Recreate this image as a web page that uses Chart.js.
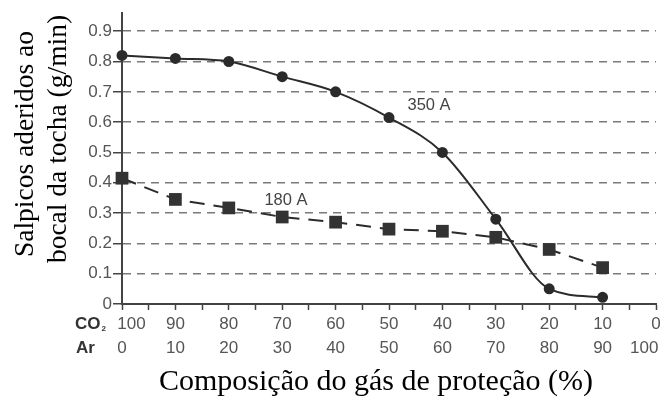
<!DOCTYPE html>
<html><head><meta charset="utf-8">
<script src="https://cdn.jsdelivr.net/npm/chart.js@4.4.0/dist/chart.umd.min.js"></script>
<style>html,body{margin:0;padding:0;background:#fff}#wrap{width:665px;height:402px;position:relative}</style>
</head><body><div id="wrap"><canvas id="c" width="665" height="402"></canvas></div>
<script>
const co2 = [100, 90, 80, 70, 60, 50, 40, 30, 20, 10];
const ar = [0, 10, 20, 30, 40, 50, 60, 70, 80, 90];
const series350 = [0.82, 0.81, 0.80, 0.75, 0.70, 0.615, 0.50, 0.28, 0.05, 0.022];
const series180 = [0.415, 0.345, 0.317, 0.287, 0.27, 0.247, 0.24, 0.22, 0.18, 0.12];
const yTicks = [0, 0.1, 0.2, 0.3, 0.4, 0.5, 0.6, 0.7, 0.8, 0.9];
const xTicks = [100, 95, 90, 85, 80, 75, 70, 65, 60, 55, 50, 45, 40, 35, 30, 25, 20, 15, 10, 5, 0];
const labels = [{text: '350 A', co2: 42.5, y: 0.656}, {text: '180 A', co2: 69.3, y: 0.343}];
const yTitle = ['Salpicos aderidos ao', 'bocal da tocha (g/min)'];
const xTitle = 'Composição do gás de proteção (%)';

const ink = '#2b2b2b';
const tickGray = '#555';

const extras = {
  id: 'extras',
  afterDraw(chart) {
    const ctx = chart.ctx, xs = chart.scales.x, ys = chart.scales.y;
    ctx.save();
    // in-plot labels
    ctx.font = '16.5px "Liberation Sans", Arial, sans-serif';
    ctx.fillStyle = '#444';
    ctx.textAlign = 'center'; ctx.textBaseline = 'middle';
    labels.forEach(l => ctx.fillText(l.text, xs.getPixelForValue(l.co2), ys.getPixelForValue(l.y)));
    // row labels
    ctx.font = 'bold 17px "Liberation Sans", Arial, sans-serif';
    ctx.fillStyle = '#333';
    ctx.textAlign = 'left';
    ctx.fillText('CO', 75, 324);
    const w = ctx.measureText('CO').width;
    ctx.font = 'bold 8px "Liberation Sans", Arial, sans-serif';
    ctx.fillText('2', 75 + w + 1, 329);
    ctx.font = 'bold 17px "Liberation Sans", Arial, sans-serif';
    ctx.fillText('Ar', 76, 348);
    // axis titles
    ctx.fillStyle = '#000';
    ctx.font = '30px "Liberation Serif", "Times New Roman", serif';
    ctx.textAlign = 'center'; ctx.textBaseline = 'alphabetic';
    ctx.fillText(xTitle, 376, 390);
    ctx.font = '27.5px "Liberation Serif", "Times New Roman", serif';
    ctx.textBaseline = 'middle';
    ctx.save(); ctx.translate(26, 144); ctx.rotate(-Math.PI / 2); ctx.fillText(yTitle[0], 0, 0); ctx.restore();
    ctx.save(); ctx.translate(59, 139); ctx.rotate(-Math.PI / 2); ctx.fillText(yTitle[1], 0, 0); ctx.restore();
    ctx.restore();
  }
};

new Chart(document.getElementById('c'), {
  type: 'line',
  data: {
    datasets: [
      {
        label: '350 A',
        data: co2.map((c, i) => ({x: c, y: series350[i]})),
        borderColor: ink, backgroundColor: ink, borderWidth: 2,
        pointStyle: 'circle', pointRadius: 4.5, pointBackgroundColor: ink, pointBorderColor: ink,
        cubicInterpolationMode: 'monotone', clip: false
      },
      {
        label: '180 A',
        data: co2.map((c, i) => ({x: c, y: series180[i]})),
        borderColor: ink, backgroundColor: ink, borderWidth: 2, borderDash: [15, 9],
        pointStyle: 'rect', pointRadius: 9, pointBackgroundColor: '#333', pointBorderColor: '#333', pointBorderWidth: 0,
        tension: 0, clip: false
      }
    ]
  },
  options: {
    responsive: false, animation: false,
    layout: {padding: {left: 0, right: 6, top: 13, bottom: 0}},
    plugins: {legend: {display: false}, tooltip: {enabled: false}},
    scales: {
      x: {
        type: 'linear', reverse: true, min: 0, max: 100,
        afterBuildTicks: s => { s.ticks = xTicks.map(v => ({value: v})); },
        afterFit: s => { s.height = 98; s.paddingLeft = 0; s.paddingRight = 0; },
        ticks: {
          autoSkip: false, maxRotation: 0, padding: 2,
          color: tickGray,
          font: {family: '"Liberation Sans", Arial, sans-serif', size: 17, lineHeight: 1.41},
          callback: v => {
            if (v % 10 !== 0) return '';
            if (v === 100) return ['    100', '0'];
            if (v === 0) return ['0', '100     '];
            return [String(v), String(100 - v)];
          }
        },
        grid: {drawOnChartArea: false, drawTicks: true, tickLength: 6, tickColor: '#444', tickWidth: 1.5},
        border: {display: true, color: '#444', width: 2}
      },
      y: {
        min: 0, max: 0.96,
        afterBuildTicks: s => { s.ticks = yTicks.map(v => ({value: v})); },
        afterFit: s => { s.width = 122; },
        ticks: {
          color: tickGray, padding: 1,
          font: {family: '"Liberation Sans", Arial, sans-serif', size: 17},
          callback: v => (v === 0 ? '0' : v.toFixed(1))
        },
        grid: {
          color: c => (c.tick && c.tick.value === 0 ? 'rgba(0,0,0,0)' : '#7a7a7a'),
          lineWidth: 1.5,
          drawTicks: true, tickLength: 9, tickColor: '#444', tickWidth: 1.5, tickBorderDash: []
        },
        border: {display: true, color: '#444', width: 2, dash: [8, 6]}
      }
    }
  },
  plugins: [extras]
});
</script></body></html>
